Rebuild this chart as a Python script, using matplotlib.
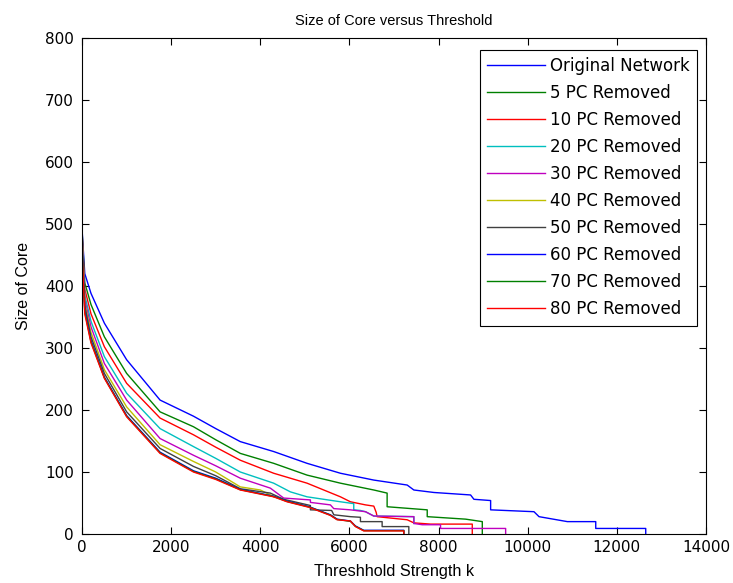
import matplotlib
matplotlib.use("Agg")
import matplotlib.pyplot as plt

plt.rcParams['font.family'] = ['DejaVu Sans']

# threshold strength k vs size of core
x_orig = [0, 60, 200, 500, 1000, 1750, 2500, 3000, 3551, 4300, 5049, 5798, 6547, 7296, 7446, 7895,
          8719, 8794, 9169, 9169, 10142, 10255, 10891, 11528, 11528, 12650, 12650]
y_orig = [490, 420, 388, 340, 281, 216, 190, 170, 149, 133, 114, 98, 87, 79, 71, 67,
          63, 56, 54, 39, 36, 28, 20, 20, 9, 9, 0]

x_pc5 = [0, 60, 200, 500, 1000, 1750, 2500, 3000, 3551, 4300, 5049, 5798, 6547, 6846, 6846,
         7746, 7746, 8607, 8982, 8982]
y_pc5 = [488, 405, 370, 318, 259, 197, 173, 152, 130, 114, 95, 82, 71, 66, 44,
         39, 28, 24, 20, 0]

x_pc10 = [0, 60, 200, 500, 1000, 1750, 2500, 3000, 3551, 4300, 5049, 5798, 6022, 6360, 6547,
          6600, 6622, 7296, 7446, 7820, 8757, 8757]
y_pc10 = [485, 395, 355, 302, 243, 187, 160, 140, 119, 98, 82, 60, 52, 47, 45,
          35, 28, 23, 18, 16, 16, 0]

x_pc20 = [0, 60, 200, 500, 1000, 1750, 2500, 3000, 3551, 4300, 4674, 5049, 5798, 6097, 6097,
          6247, 6360, 6547, 7446, 7446]
y_pc20 = [480, 385, 343, 286, 227, 170, 141, 122, 100, 82, 68, 60, 52, 49, 39,
          38, 36, 29, 28, 17]

x_pc30 = [0, 60, 200, 500, 1000, 1750, 2500, 3000, 3551, 4225, 4524, 5124, 5124, 5573, 5648,
          6022, 6360, 6547, 7446, 7446, 7633, 8045, 8045, 9506, 9506]
y_pc30 = [478, 378, 334, 275, 216, 154, 127, 110, 90, 74, 58, 55, 51, 47, 41,
          39, 36, 29, 28, 17, 15, 15, 9, 9, 0]

x_pc40 = [0, 60, 200, 500, 1000, 1750, 2500, 3000, 3551, 4000, 4225, 4300]
y_pc40 = [475, 372, 325, 265, 205, 144, 117, 100, 76, 71, 63, 60]

x_pc50 = [0, 60, 200, 500, 1000, 1750, 2500, 3000, 3551, 4225, 4524, 5124, 5124, 5600, 5650,
          6022, 6247, 6247, 6734, 6734, 7333, 7333]
y_pc50 = [470, 368, 318, 259, 197, 138, 109, 94, 73, 66, 56, 46, 39, 38, 31,
          28, 27, 20, 20, 12, 12, 0]

x_pc60 = [0, 60, 200, 500, 1000, 1750, 2500, 3000, 3551, 4300, 4600, 5100, 5573, 5723, 6022,
          6135, 6322, 7221, 7221]
y_pc60 = [465, 362, 312, 253, 191, 132, 102, 90, 72, 61, 53, 44, 31, 24, 21,
          13, 6, 6, 0]

x_pc70 = [0, 60, 200, 500, 1000, 1750, 2500, 3000, 3551, 4300, 4600, 5100, 5573, 5723, 6022,
          6135, 6322, 7221, 7221]
y_pc70 = [460, 358, 310, 252, 190, 131, 101, 89, 71.5, 60.5, 52.5, 43.5, 30.5, 23.5, 20.5,
          12.5, 5.5, 5.5, 0]

x_pc80 = [0, 60, 200, 500, 1000, 1750, 2500, 3000, 3551, 4300, 4600, 5100, 5573, 5723, 6022,
          6135, 6322, 7221, 7221]
y_pc80 = [455, 355, 308, 251, 189, 130, 100, 88, 71, 60, 52, 43, 30, 23, 21,
          12, 5, 5, 0]

labels = ["Original Network", "5 PC Removed", "10 PC Removed", "20 PC Removed",
          "30 PC Removed", "40 PC Removed", "50 PC Removed", "60 PC Removed",
          "70 PC Removed", "80 PC Removed"]

# old matlab colour cycle
colors = ["#0000ff", "#008000", "#ff0000", "#00bfbf", "#bf00bf",
          "#bfbf00", "#404040", "#0000ff", "#008000", "#ff0000"]

series = [(x_orig, y_orig), (x_pc5, y_pc5), (x_pc10, y_pc10), (x_pc20, y_pc20),
          (x_pc30, y_pc30), (x_pc40, y_pc40), (x_pc50, y_pc50), (x_pc60, y_pc60),
          (x_pc70, y_pc70), (x_pc80, y_pc80)]

fig = plt.figure(figsize=(7.33, 5.83), dpi=100)
ax = fig.add_axes([0.112, 0.084, 0.851, 0.851])

for (xs, ys), c, lab in zip(series, colors, labels):
    ax.plot(xs, ys, color=c, linewidth=1.0, label=lab)

ax.set_xlim(0, 14000)
ax.set_ylim(0, 800)
ax.set_xticks(range(0, 14001, 2000))
ax.set_yticks(range(0, 801, 100))
ax.tick_params(direction='in', top=True, right=True, length=5, width=0.8, labelsize=11)
ax.tick_params(axis='y', pad=6)
ax.tick_params(axis='x', pad=4)
for s in ax.spines.values():
    s.set_linewidth(0.8)

ax.set_title("Size of Core versus Threshold", fontsize=10.5, pad=9,
             fontfamily='Liberation Sans')
ax.set_xlabel("Threshhold Strength k", fontsize=11.7, labelpad=7,
              fontfamily='Liberation Sans')
ax.set_ylabel("Size of Core", fontsize=11.5, labelpad=10,
              fontfamily='Liberation Sans')

leg = ax.legend(loc='upper right', bbox_to_anchor=(0.9856, 0.976), borderaxespad=0,
                fontsize=12, handlelength=3.5, handletextpad=0.25, labelspacing=0.54,
                fancybox=False, framealpha=1, edgecolor='black', borderpad=0.45)
leg.get_frame().set_linewidth(0.8)

fig.savefig("out.png", dpi=100)
